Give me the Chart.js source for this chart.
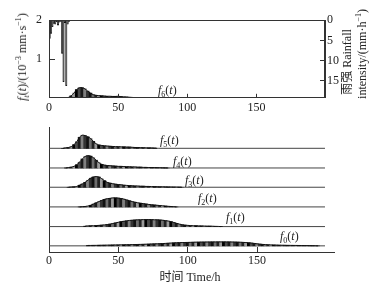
<!DOCTYPE html>
<html>
<head>
<meta charset="utf-8">
<script src="https://cdn.jsdelivr.net/npm/chart.js@4.4.1/dist/chart.umd.min.js"></script>
<style>
  body { margin: 0; width: 380px; height: 285px; background: #fff; position: relative; overflow: hidden;
         font-family: 'Liberation Serif', 'Noto Sans CJK SC', serif; color: #222; }
  canvas { position: absolute; left: 0; }
  #topChart { top: 0; }
  #bottomChart { top: 118px; }
  .lbl { position: absolute; font-size: 12px; white-space: nowrap; line-height: 1; }
  .rot { transform: translate(-50%, -50%) rotate(-90deg); }
  sub, sup { font-size: 8px; line-height: 0; }
  sub { vertical-align: -3px; }
  sup { vertical-align: 5px; }
</style>
</head>
<body>
<canvas id="topChart" width="380" height="118"></canvas>
<canvas id="bottomChart" width="380" height="167"></canvas>

<div class="lbl rot" style="left:22px; top:57px;"><i>f</i><sub><i>t</i></sub>(<i>t</i>)/(10<sup>−3</sup> mm·s<sup>−1</sup>)</div>
<div class="lbl rot" style="left:347px; top:62px;">雨强 Rainfall</div>
<div class="lbl rot" style="left:362px; top:54px;">intensity/(mm·h<sup>−1</sup>)</div>
<div class="lbl" style="left:190px; top:277px; transform: translate(-50%, -50%);">时间 Time/h</div>

<div class="lbl" style="left:158px; top:84px;"><i>f</i><sub>6</sub>(<i>t</i>)</div>
<div class="lbl" style="left:160px; top:134px;"><i>f</i><sub>5</sub>(<i>t</i>)</div>
<div class="lbl" style="left:173px; top:155px;"><i>f</i><sub>4</sub>(<i>t</i>)</div>
<div class="lbl" style="left:185px; top:174px;"><i>f</i><sub>3</sub>(<i>t</i>)</div>
<div class="lbl" style="left:198px; top:192px;"><i>f</i><sub>2</sub>(<i>t</i>)</div>
<div class="lbl" style="left:226px; top:211px;"><i>f</i><sub>1</sub>(<i>t</i>)</div>
<div class="lbl" style="left:280px; top:230px;"><i>f</i><sub>0</sub>(<i>t</i>)</div>

<script>
// ---- data ----
const timeTicks = [0, 50, 100, 150];
const flowTicks = [1, 2];
const rainTicks = [0, 5, 10, 15];

// hourly rainfall (mm/h), each bar covers [hour, hour+1)
const rainHours = [0, 1, 2, 3, 4, 5, 6, 7, 8, 9, 10, 11, 12, 13, 14];
const rainfall  = [4.5, 3.3, 1.6, 0.8, 1.0, 0.4, 1.2, 0.5, 0.3, 8.2, 15.2, 0.6, 16.2, 1.0, 0.3];

// flow series f(t), 10^-3 mm/s, sampled every 2 h from the given start hour
const step = 2;
const f6Start = 12;
const f6 = [0, 0.01, 0.05, 0.12, 0.21, 0.26, 0.26, 0.23, 0.17, 0.12, 0.08, 0.065, 0.055, 0.05, 0.045,
            0.04, 0.04, 0.035, 0.035, 0.04, 0.03, 0.025, 0.02, 0.015, 0.01, 0.005, 0];
const f5Start = 10;
const f5 = [0, 0.01, 0.02, 0.04, 0.09, 0.16, 0.27, 0.32, 0.31, 0.28, 0.24, 0.17, 0.11, 0.08, 0.07,
            0.06, 0.055, 0.05, 0.045, 0.04, 0.04, 0.035, 0.035, 0.03, 0.03, 0.025, 0.02, 0.02,
            0.015, 0.015, 0.01, 0.01, 0.008, 0.005, 0];
const f4Start = 12;
const f4 = [0, 0.01, 0.02, 0.04, 0.08, 0.14, 0.22, 0.28, 0.30, 0.29, 0.25, 0.19, 0.13, 0.09, 0.07,
            0.06, 0.055, 0.05, 0.045, 0.04, 0.04, 0.035, 0.03, 0.03, 0.025, 0.025, 0.02, 0.02,
            0.015, 0.015, 0.01, 0.01, 0.01, 0.008, 0.006, 0.004, 0.002, 0];
const f3Start = 14;
const f3 = [0, 0.005, 0.01, 0.02, 0.05, 0.08, 0.12, 0.17, 0.22, 0.25, 0.26, 0.25, 0.21, 0.16, 0.12,
            0.1, 0.085, 0.075, 0.065, 0.06, 0.05, 0.045, 0.04, 0.035, 0.03, 0.03, 0.025, 0.025,
            0.02, 0.02, 0.015, 0.015, 0.012, 0.01, 0.01, 0.008, 0.006, 0.005, 0.004, 0.003, 0.002, 0];
const f2Start = 22;
const f2 = [0, 0.005, 0.01, 0.02, 0.04, 0.07, 0.1, 0.13, 0.16, 0.185, 0.2, 0.21, 0.22, 0.22, 0.215,
            0.205, 0.19, 0.17, 0.15, 0.13, 0.115, 0.1, 0.09, 0.08, 0.07, 0.06, 0.052, 0.046, 0.04,
            0.033, 0.027, 0.02, 0.015, 0.01, 0.005, 0];
const f1Start = 26;
const f1 = [0.01, 0.015, 0.02, 0.02, 0.025, 0.03, 0.035, 0.04, 0.05, 0.06, 0.075, 0.09, 0.105, 0.12,
            0.13, 0.14, 0.15, 0.155, 0.16, 0.165, 0.165, 0.17, 0.17, 0.17, 0.17, 0.165, 0.165, 0.16,
            0.155, 0.145, 0.135, 0.12, 0.1, 0.08, 0.06, 0.045, 0.035, 0.03, 0.025, 0.02, 0.02, 0.015,
            0.015, 0.012, 0.01, 0.01, 0.008, 0.006, 0.004, 0];
const f0Start = 28;
const f0 = [0.01, 0.01, 0.012, 0.012, 0.014, 0.015, 0.016, 0.017, 0.018, 0.02, 0.021, 0.022, 0.024,
            0.025, 0.027, 0.028, 0.03, 0.032, 0.034, 0.036, 0.038, 0.04, 0.042, 0.045, 0.048, 0.05,
            0.053, 0.056, 0.06, 0.064, 0.068, 0.072, 0.075, 0.078, 0.08, 0.082, 0.084, 0.086, 0.088,
            0.09, 0.09, 0.092, 0.092, 0.094, 0.094, 0.095, 0.095, 0.096, 0.096, 0.096, 0.095, 0.095,
            0.094, 0.092, 0.09, 0.088, 0.085, 0.08, 0.075, 0.068, 0.06, 0.05, 0.042, 0.036, 0.03,
            0.026, 0.022, 0.02, 0.018, 0.016, 0.015, 0.014, 0.013, 0.012, 0.011, 0.01, 0.009, 0.008,
            0.007, 0.006, 0.005, 0.004, 0.003, 0];

// simulated time span (h)
const timeSpan = [0, 199];

// ---- layout / style ----
const ridgeBase = [0.15, 0.62, 1.10, 1.58, 2.05, 2.53];   // f0..f5 baselines in bottom panel
const stripes = ['#111', '#6e6e6e', '#222', '#9a9a9a', '#000', '#4a4a4a', '#1a1a1a', '#808080', '#333'];
const tickFont = { family: 'Liberation Serif', size: 12 };
const ink = '#222';

function stripeColor(ctx) {
    return stripes[ctx.dataIndex % stripes.length];
}

function filterTicks(list) {
    return function(scale) {
        scale.ticks = list.map(v => ({ value: v }));
    };
}

const framePlugin = {
    id: 'frame',
    afterDraw(chart) {
        const a = chart.chartArea, ctx = chart.ctx;
        ctx.save();
        ctx.strokeStyle = '#333';
        ctx.lineWidth = 1;
        ctx.strokeRect(Math.round(a.left) + 0.5, Math.round(a.top) + 0.5,
                       Math.round(a.right - a.left) - 1, Math.round(a.bottom - a.top) - 1);
        ctx.restore();
    }
};

function ridgeBars(start, values, base) {
    return {
        type: 'bar',
        data: values.map((v, i) => ({ x: start + i * step, y: [base, base + v] })),
        backgroundColor: stripeColor,
        borderWidth: 0,
        grouped: false,
        barPercentage: 1,
        categoryPercentage: 1,
        order: 2
    };
}

function ridgeLine(start, values, base) {
    return {
        type: 'line',
        data: values.map((v, i) => ({ x: start + i * step, y: base + v })),
        borderColor: '#111',
        borderWidth: 1,
        pointRadius: 0,
        tension: 0.3,
        fill: false,
        order: 1
    };
}

// ---- top chart: rainfall + f6 ----
new Chart(document.getElementById('topChart'), {
    type: 'bar',
    data: {
        datasets: [
            {
                xAxisID: 'xr',
                yAxisID: 'yr',
                data: rainHours.map((h, i) => ({ x: h + 0.5, y: rainfall[i] })),
                backgroundColor: '#555',
                borderColor: '#000',
                borderWidth: 0.6,
                grouped: false,
                barPercentage: 1,
                categoryPercentage: 1
            },
            Object.assign(ridgeBars(f6Start, f6, 0), { xAxisID: 'x', yAxisID: 'y' }),
            Object.assign(ridgeLine(f6Start, f6, 0), { xAxisID: 'x', yAxisID: 'y' })
        ]
    },
    options: {
        responsive: false,
        animation: false,
        layout: { padding: { top: 18, left: 0, right: 0, bottom: 0 } },
        plugins: { legend: { display: false }, tooltip: { enabled: false } },
        scales: {
            x: {
                type: 'linear', min: 0, max: 199.5, offset: false,
                afterBuildTicks: filterTicks(timeTicks),
                afterFit(s) { s.height = 18; },
                grid: { offset: false, drawOnChartArea: false, tickLength: -4, color: '#333' },
                border: { color: '#333' },
                ticks: { font: tickFont, color: ink, padding: 7, maxRotation: 0 }
            },
            xr: {
                type: 'linear', min: 0, max: 199.5, offset: false, display: false
            },
            y: {
                type: 'linear', position: 'left', min: 0, max: 2,
                afterBuildTicks: filterTicks(flowTicks),
                afterFit(s) { s.width = 49; },
                grid: { drawOnChartArea: false, tickLength: -6, color: '#333' },
                border: { color: '#333' },
                ticks: { font: tickFont, color: ink, padding: 13 }
            },
            yr: {
                type: 'linear', position: 'right', min: 0, max: 19.2, reverse: true,
                afterBuildTicks: filterTicks(rainTicks),
                afterFit(s) { s.width = 55; },
                grid: { drawOnChartArea: false, tickLength: -5, color: '#333' },
                border: { color: '#333' },
                ticks: { font: tickFont, color: ink, padding: 7 }
            }
        }
    },
    plugins: [framePlugin]
});

// ---- bottom chart: f5 ... f0 ridges ----
const ridgeSeries = [
    { start: f0Start, values: f0 },
    { start: f1Start, values: f1 },
    { start: f2Start, values: f2 },
    { start: f3Start, values: f3 },
    { start: f4Start, values: f4 },
    { start: f5Start, values: f5 }
];

const bottomSets = [];
ridgeSeries.forEach((r, k) => {
    bottomSets.push({
        type: 'line',
        data: timeSpan.map(t => ({ x: t, y: ridgeBase[k] })),
        borderColor: '#444',
        borderWidth: 1,
        pointRadius: 0,
        order: 3
    });
    bottomSets.push(ridgeBars(r.start, r.values, ridgeBase[k]));
    bottomSets.push(ridgeLine(r.start, r.values, ridgeBase[k]));
});

new Chart(document.getElementById('bottomChart'), {
    type: 'bar',
    data: { datasets: bottomSets },
    options: {
        responsive: false,
        animation: false,
        layout: { padding: { top: 9, left: 0, right: 46, bottom: 0 } },
        plugins: { legend: { display: false }, tooltip: { enabled: false } },
        scales: {
            x: {
                type: 'linear', min: 0, max: 205.5, offset: false,
                afterBuildTicks: filterTicks(timeTicks),
                afterFit(s) { s.height = 33; },
                grid: { offset: false, drawOnChartArea: false, tickLength: -5, color: '#333' },
                border: { color: '#333' },
                ticks: { font: tickFont, color: ink, padding: 7, maxRotation: 0 }
            },
            y: {
                type: 'linear', min: 0, max: 3.05,
                afterFit(s) { s.width = 49; },
                grid: { display: false },
                border: { color: '#333' },
                ticks: { display: false }
            }
        }
    }
});
</script>
</body>
</html>
